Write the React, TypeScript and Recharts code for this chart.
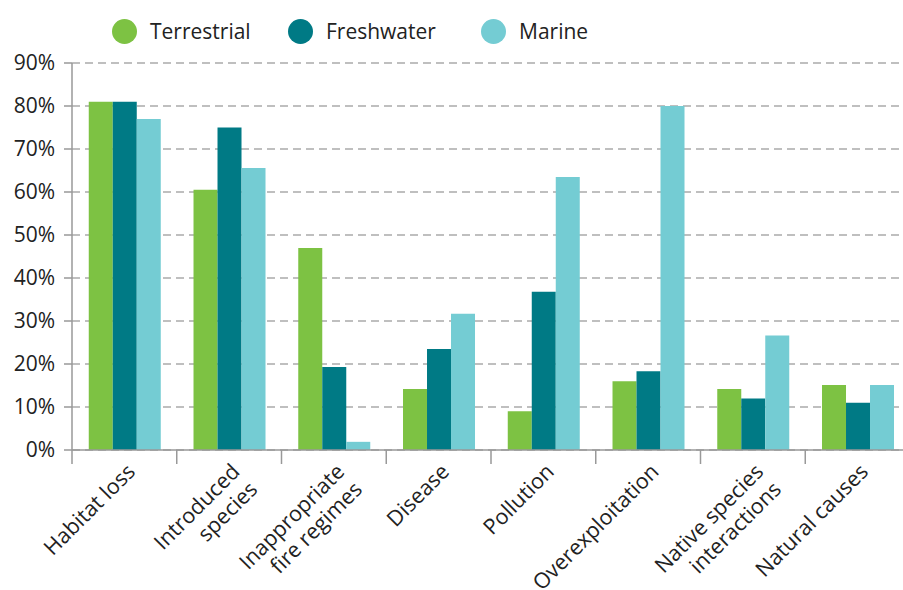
import { BarChart, Bar, XAxis, YAxis, CartesianGrid, Legend } from 'recharts';

const categories = [
  'Habitat loss',
  'Introduced\nspecies',
  'Inappropriate\nfire regimes',
  'Disease',
  'Pollution',
  'Overexploitation',
  'Native species\ninteractions',
  'Natural causes',
];
const terrestrial = [81, 60.5, 47, 14.2, 9, 16, 14.2, 15.1];
const freshwater = [81, 75, 19.3, 23.5, 36.8, 18.3, 12, 11];
const marine = [77, 65.6, 1.9, 31.7, 63.5, 80, 26.6, 15.1];
const yTicks = [0, 10, 20, 30, 40, 50, 60, 70, 80, 90];

const seriesList = [
  { key: 'terrestrial', name: 'Terrestrial', color: '#7DC243', width: 176 },
  { key: 'freshwater', name: 'Freshwater', color: '#007A85', width: 193 },
  { key: 'marine', name: 'Marine', color: '#74CCD3', width: 120 },
];

const data = categories.map((name, i) => ({
  name,
  terrestrial: terrestrial[i],
  freshwater: freshwater[i],
  marine: marine[i],
}));

const FONT = '"Open Sans", sans-serif';
const CHART_W = 910;
const CHART_H = 590;
const Y_W = 72;
const BAND = (CHART_W - Y_W) / categories.length;

function CategoryTick(props: any) {
  const { x, y, payload, index } = props;
  const lines = String(payload.value).split('\n');
  const ax = x + 12;
  const ay = y + 23;
  return (
    <g>
      <line x1={x - BAND / 2} y1={y} x2={x - BAND / 2} y2={y + 14} stroke="#999" strokeWidth={1.5} />
      {index === categories.length - 1 && (
        <line x1={x + BAND / 2} y1={y} x2={x + BAND / 2} y2={y + 14} stroke="#999" strokeWidth={1.5} />
      )}
      <text
        x={ax}
        y={ay}
        transform={`rotate(-45 ${ax} ${ay})`}
        textAnchor="end"
        fontSize={21.5}
        fontFamily={FONT}
        fill="#222"
      >
        {lines.map((l, i) => (
          <tspan key={i} x={ax} dy={i === 0 ? 0 : 25}>
            {l}
          </tspan>
        ))}
      </text>
    </g>
  );
}

function LegendContent() {
  return (
    <div
      style={{
        height: 46,
        display: 'flex',
        alignItems: 'center',
        paddingLeft: 112,
        paddingTop: 16,
        boxSizing: 'border-box',
        fontFamily: FONT,
        fontSize: 21,
        color: '#222',
      }}
    >
      {seriesList.map((s) => (
        <div key={s.key} style={{ display: 'flex', alignItems: 'center', width: s.width }}>
          <span
            style={{
              width: 25,
              height: 25,
              borderRadius: '50%',
              background: s.color,
              display: 'inline-block',
              marginRight: 13,
              flexShrink: 0,
            }}
          />
          <span>{s.name}</span>
        </div>
      ))}
    </div>
  );
}

export default function App() {
  return (
    <div style={{ position: 'absolute', left: 0, top: 0, width: 903, height: 590, overflow: 'hidden', background: '#fff' }}>
      <BarChart
        width={CHART_W}
        height={CHART_H}
        data={data}
        margin={{ top: 17, right: 0, bottom: 0, left: 0 }}
        barCategoryGap="16%"
        barGap={0}
      >
        <Legend verticalAlign="top" align="left" content={<LegendContent />} wrapperStyle={{ top: 0, left: 0 }} />
        <CartesianGrid vertical={false} stroke="#aaa" strokeWidth={1.5} strokeDasharray="8 5" />
        <XAxis
          dataKey="name"
          height={140}
          interval={0}
          tickLine={false}
          tickSize={0}
          tickMargin={0}
          axisLine={{ stroke: '#999', strokeWidth: 1.5 }}
          tick={<CategoryTick />}
        />
        <YAxis
          width={Y_W}
          domain={[0, 90]}
          ticks={yTicks}
          interval={0}
          tickFormatter={(v) => `${v}%`}
          tickSize={8}
          tickMargin={9}
          axisLine={{ stroke: '#999', strokeWidth: 1.5 }}
          tickLine={{ stroke: '#999', strokeWidth: 1.5 }}
          tick={{ fontSize: 21, fill: '#222', fontFamily: FONT }}
        />
        {seriesList.map((s) => (
          <Bar key={s.key} dataKey={s.key} name={s.name} fill={s.color} isAnimationActive={false} />
        ))}
      </BarChart>
    </div>
  );
}
